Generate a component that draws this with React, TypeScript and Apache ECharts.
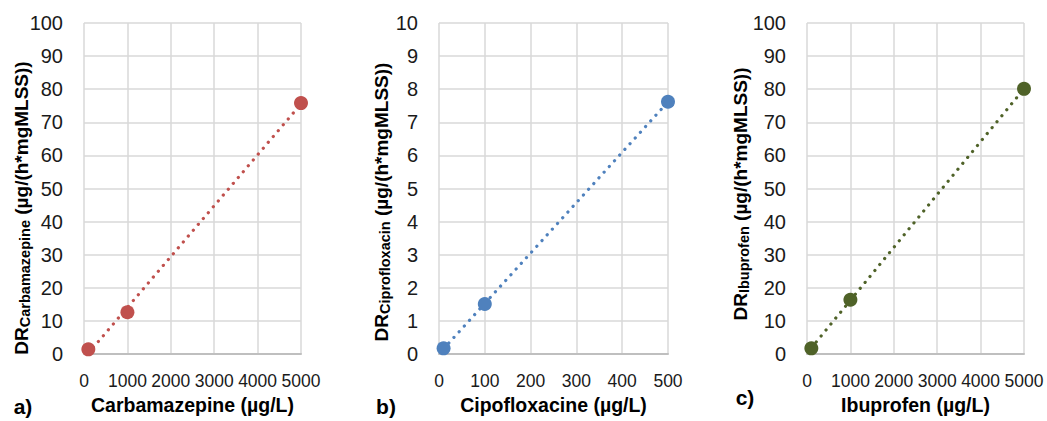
import React, { useEffect, useRef } from "react";
import * as echarts from "echarts";

// Data
const carbaX = [100, 1000, 5000];
const carbaY = [1.4, 12.6, 75.8];
const ciproX = [10, 100, 500];
const ciproY = [0.17, 1.51, 7.62];
const ibuX = [100, 1000, 5000];
const ibuY = [1.7, 16.4, 80.1];

const yTicksA = { min: 0, max: 100, interval: 10 };
const yTicksB = { min: 0, max: 10, interval: 1 };
const xTicksA = { min: 0, max: 5000, interval: 1000 };
const xTicksB = { min: 0, max: 500, interval: 100 };

const panelLetters = ["a)", "b)", "c)"];
const xTitles = ["Carbamazepine (µg/L)", "Cipofloxacine (µg/L)", "Ibuprofen (µg/L)"];
const ySubs = ["Carbamazepine", "Ciprofloxacin", "Ibuprofen"];
const colors = ["#c0504d", "#4f81bd", "#4f6228"];

const FONT = "'Liberation Sans', Arial, sans-serif";

// least-squares linear trendline over the data's x range (as Excel does)
function trend(xs: number[], ys: number[]): number[][] {
  const n = xs.length;
  const mx = xs.reduce((a, b) => a + b, 0) / n;
  const my = ys.reduce((a, b) => a + b, 0) / n;
  let sxy = 0, sxx = 0;
  for (let i = 0; i < n; i++) {
    sxy += (xs[i] - mx) * (ys[i] - my);
    sxx += (xs[i] - mx) * (xs[i] - mx);
  }
  const k = sxy / sxx;
  const b = my - k * mx;
  const x0 = Math.min(...xs), x1 = Math.max(...xs);
  return [[x0, k * x0 + b], [x1, k * x1 + b]];
}

export default function App() {
  const ref = useRef<HTMLDivElement>(null);
  useEffect(() => {
    if (!ref.current) return;
    const chart = echarts.init(ref.current, null, { renderer: "svg" });
    const grids = [
      { left: 84, top: 23, width: 217, height: 331 },
      { left: 439, top: 23, width: 229, height: 331 },
      { left: 807, top: 23, width: 217, height: 331 },
    ];
    const xs = [carbaX, ciproX, ibuX];
    const ys = [carbaY, ciproY, ibuY];
    const xT = [xTicksA, xTicksB, xTicksA];
    const yT = [yTicksA, yTicksB, yTicksA];

    const xAxis = grids.map((g, i) => ({
      type: "value",
      gridIndex: i,
      ...xT[i],
      name: xTitles[i],
      nameLocation: "middle",
      nameGap: 41,
      nameTextStyle: { fontFamily: FONT, fontSize: 19.5, fontWeight: "bold", color: "#000" },
      axisLine: { show: true, lineStyle: { color: "#bfbfbf", width: 2 } },
      axisTick: { show: false },
      axisLabel: {
        fontFamily: FONT,
        fontSize: 17.5,
        color: "#1a1a1a",
        margin: 18,
        formatter: (v: number) => String(v),
      },
      splitLine: { show: true, lineStyle: { color: "#d9d9d9", width: 1.5 } },
    }));
    const yAxis = grids.map((g, i) => ({
      type: "value",
      gridIndex: i,
      ...yT[i],
      axisLine: { show: false },
      axisTick: { show: false },
      axisLabel: { fontFamily: FONT, fontSize: 20, color: "#1a1a1a", margin: 21 },
      splitLine: { show: true, lineStyle: { color: "#d9d9d9", width: 1.5 } },
    }));

    const series: any[] = [];
    for (let i = 0; i < 3; i++) {
      series.push({
        type: "line",
        xAxisIndex: i,
        yAxisIndex: i,
        data: trend(xs[i], ys[i]),
        showSymbol: false,
        symbol: "none",
        z: 1,
        lineStyle: { color: colors[i], width: 3.2, type: [0.1, 7.6], cap: "round" },
      });
      series.push({
        type: "scatter",
        xAxisIndex: i,
        yAxisIndex: i,
        data: xs[i].map((x, j) => [x, ys[i][j]]),
        symbol: "circle",
        symbolSize: 14,
        z: 3,
        itemStyle: { color: colors[i], opacity: 1 },
      });
    }

    const yTitlePos = [
      { x: 21, y: 208 },
      { x: 381, y: 202 },
      { x: 740, y: 194 },
    ];
    const letterPos = [
      { x: 23, y: 406 },
      { x: 386, y: 406 },
      { x: 745, y: 397 },
    ];
    const graphic: any[] = [];
    for (let i = 0; i < 3; i++) {
      graphic.push({
        type: "text",
        x: yTitlePos[i].x,
        y: yTitlePos[i].y,
        rotation: Math.PI / 2,
        style: {
          text: `{m|DR}{s|${ySubs[i]}}{m| (µg/(h*mgMLSS))}`,
          align: "center",
          verticalAlign: "middle",
          fill: "#000",
          rich: {
            m: { fontFamily: FONT, fontSize: 19, fontWeight: "bold", lineHeight: 22, fill: "#000" },
            s: { fontFamily: FONT, fontSize: 14.5, fontWeight: "bold", lineHeight: 8, verticalAlign: "bottom", fill: "#000" },
          },
        },
      });
      graphic.push({
        type: "text",
        x: letterPos[i].x,
        y: letterPos[i].y,
        style: {
          text: panelLetters[i],
          align: "center",
          verticalAlign: "middle",
          fontFamily: FONT,
          fontSize: 21,
          fontWeight: "bold",
          fill: "#000",
        },
      });
    }

    chart.setOption({
      animation: false,
      backgroundColor: "#fff",
      grid: grids,
      xAxis,
      yAxis,
      series,
      graphic,
    });
    return () => chart.dispose();
  }, []);
  return (
    <div
      ref={ref}
      style={{ position: "absolute", left: 0, top: 0, width: 1047, height: 421 }}
    />
  );
}
